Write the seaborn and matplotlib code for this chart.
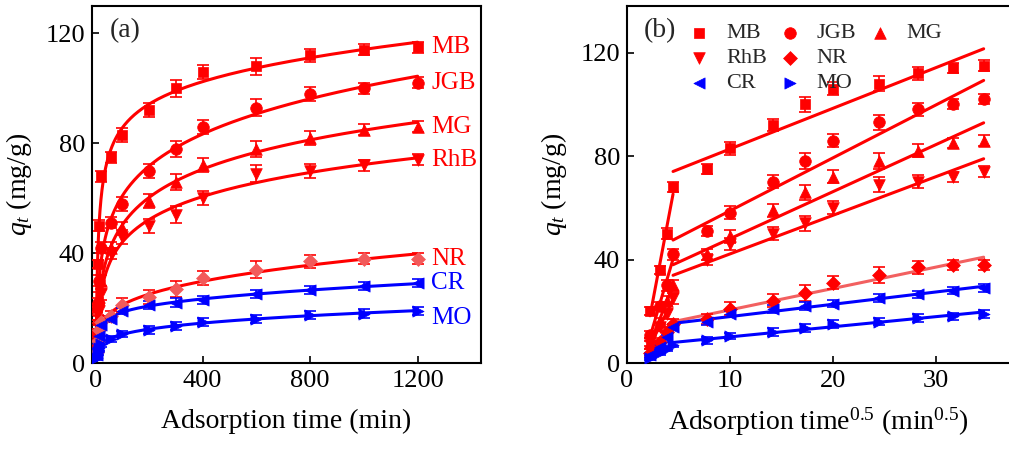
import numpy as np
import pandas as pd
import seaborn as sns
import matplotlib.pyplot as plt
from matplotlib.lines import Line2D

# adsorption kinetics of the seven dyes
time = np.array([5, 10, 15, 20, 60, 100, 200, 300, 400, 600, 800, 1000, 1200])
dyes = ['MB', 'JGB', 'MG', 'RhB', 'NR', 'CR', 'MO']
MB = [20, 36, 50, 68, 75, 83, 92, 100, 106, 108, 112, 114, 115]
JGB = [11, 22, 30, 42, 51, 58, 70, 78, 86, 93, 98, 100, 102]
MG = [8, 16, 24, 30, 42, 49, 59, 66, 72, 78, 82, 85, 86]
RhB = [7, 14, 19, 25, 40, 46, 50, 54, 60, 69, 70, 72, 74]
NR = [4, 8, 12, 15, 17, 21, 24, 27, 31, 34, 37, 38, 38]
CR = [3, 6, 10, 14, 16, 19, 21, 22, 23, 25, 26.5, 28, 29]
MO = [2, 4, 5.5, 7, 8.7, 10.5, 12, 13.5, 15, 16, 17.5, 18, 19]
err_red = [1.5, 1.5, 2, 2, 2, 2.5, 2.5, 3, 2.5, 3, 2.5, 2, 2]
err_blue = [1, 1, 1, 1, 1.2, 1.2, 1.5, 1.5, 1.5, 1.5, 1.5, 1.5, 1.5]

values = {'MB': MB, 'JGB': JGB, 'MG': MG, 'RhB': RhB, 'NR': NR, 'CR': CR, 'MO': MO}
markers = {'MB': 's', 'JGB': 'o', 'MG': '^', 'RhB': 'v', 'NR': 'D', 'CR': '<', 'MO': '>'}
red, blue = '#ff0000', '#0000ff'
colors = {'MB': red, 'JGB': red, 'MG': red, 'RhB': red, 'NR': red, 'CR': blue, 'MO': blue}
sizes = {'MB': 60, 'JGB': 70, 'MG': 70, 'RhB': 70, 'NR': 50, 'CR': 65, 'MO': 65}

sns.set_theme(style='ticks')
plt.rcParams['font.family'] = ['Liberation Serif', 'DejaVu Serif']
plt.rcParams['mathtext.fontset'] = 'custom'
plt.rcParams['mathtext.rm'] = 'Liberation Serif'
plt.rcParams['mathtext.it'] = 'Liberation Serif:italic'

fig = plt.figure(figsize=(10.09, 4.53), dpi=100)
ax1 = fig.add_axes([92 / 1009, 1 - 363 / 453, 389 / 1009, 357 / 453])
ax2 = fig.add_axes([627 / 1009, 1 - 363 / 453, 383 / 1009, 357 / 453])

# ---- (a) q vs t with fitted curves
tt = np.geomspace(1, 1200, 300)
for d in dyes:
    q = np.array(values[d], dtype=float)
    c = colors[d]
    err = err_red if c == red else err_blue
    coef = np.polyfit(np.log(time), q, 3)
    fit = np.clip(np.polyval(coef, np.log(tt)), 0, None)
    sns.lineplot(x=tt, y=fit, ax=ax1, color=c, lw=2.2, zorder=2)
    ax1.errorbar(time, q, yerr=err, fmt='none', ecolor=c, elinewidth=1.2,
                 capsize=4, capthick=1.2, zorder=3)
    mcol = '#f25a5a' if d == 'NR' else c
    sns.scatterplot(x=time, y=q, ax=ax1, marker=markers[d], color=mcol,
                    s=sizes[d], edgecolor=mcol, linewidth=0.5, zorder=4)
    off = -2.5 if d == 'MO' else 0
    ax1.text(1250, q[-1] + off, d, color=c, fontsize=18, va='center', ha='left')

ax1.set_xlim(-12, 1436)
ax1.set_ylim(0, 130)
ax1.set_xticks([0, 400, 800, 1200])
ax1.set_yticks([0, 40, 80, 120])
ax1.set_xlabel('Adsorption time (min)', fontsize=20, labelpad=12)
ax1.set_ylabel(r'$q_t$ (mg/g)', fontsize=20, labelpad=8)
ax1.text(0.045, 0.93, '(a)', transform=ax1.transAxes, fontsize=20, va='center')

# ---- (b) intraparticle diffusion, two linear stages
sq = np.sqrt(time)
line_cols = {'NR': '#f26060'}
early_cols = {'NR': '#f0288c'}
for d in dyes:
    q = np.array(values[d], dtype=float)
    c = colors[d]
    err = err_red if c == red else err_blue
    df = pd.DataFrame({'x': sq, 'q': q})
    sns.regplot(data=df.iloc[:4], x='x', y='q', ax=ax2, ci=None, scatter=False,
                color=early_cols.get(d, c), line_kws={'lw': 2.2, 'zorder': 2})
    sns.regplot(data=df.iloc[3:], x='x', y='q', ax=ax2, ci=None, scatter=False,
                color=line_cols.get(d, c), line_kws={'lw': 2.2, 'zorder': 2})
    ax2.errorbar(sq, q, yerr=err, fmt='none', ecolor=c, elinewidth=1.2,
                 capsize=4, capthick=1.2, zorder=3)
    sns.scatterplot(x=sq, y=q, ax=ax2, marker=markers[d], color=c, s=sizes[d],
                    edgecolor=c, linewidth=0.5, zorder=4, label=d)

ax2.set_xlim(0, 37.2)
ax2.set_ylim(0, 138)
ax2.set_xticks([0, 10, 20, 30])
ax2.set_yticks([0, 40, 80, 120])
ax2.set_xlabel(r'Adsorption time$^{0.5}$ (min$^{0.5}$)', fontsize=20, labelpad=10)
ax2.set_ylabel(r'$q_t$ (mg/g)', fontsize=20, labelpad=8)
ax2.text(0.045, 0.93, '(b)', transform=ax2.transAxes, fontsize=20, va='center')

h, l = ax2.get_legend_handles_labels()
hmap = dict(zip(l, h))
blank = Line2D([], [], linestyle='none', marker='none')
order = ['MB', 'RhB', 'CR', 'JGB', 'NR', 'MO', 'MG']
ax2.legend([hmap[k] for k in order] + [blank], order + [''], ncol=3,
           loc='upper left', bbox_to_anchor=(0.125, 0.99), frameon=False,
           fontsize=16, labelspacing=0.2, handlelength=1.0,
           handletextpad=0.7, columnspacing=0.55, borderaxespad=0.2)

for ax in (ax1, ax2):
    ax.tick_params(direction='in', length=5, width=1.2, labelsize=19, pad=5,
                   color='black', labelcolor='black')
    for s in ax.spines.values():
        s.set_linewidth(1.5)
        s.set_color('black')
    ax.xaxis.label.set_color('black')
    ax.yaxis.label.set_color('black')

fig.savefig('out.png', dpi=100)
